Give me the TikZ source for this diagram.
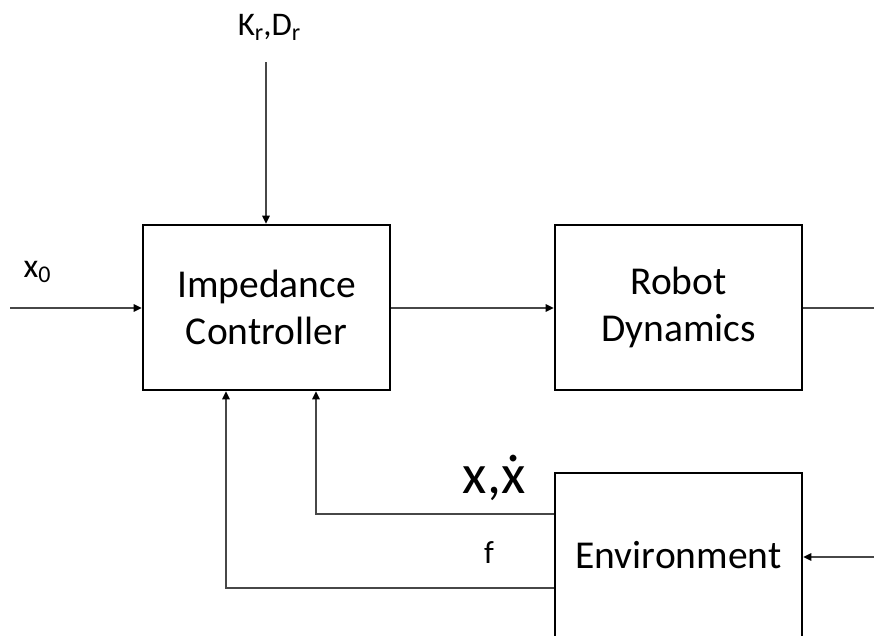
\documentclass[tikz,border=0pt]{standalone}
\usepackage{fontspec}
\setmainfont{Carlito}
\usetikzlibrary{arrows.meta}
\newcommand{\mysub}[1]{\raisebox{-0.32ex}{\fontsize{24}{26}\selectfont #1}}
\newcommand{\xdotglyph}{\ooalign{x\cr\hidewidth\raisebox{0.56em}{.}\hidewidth}}
\begin{document}
\begin{tikzpicture}[x=1pt,y=-1pt,
  blockbox/.style={draw=black,line width=2.6pt,minimum width=247pt,minimum height=165pt,inner sep=0pt,align=center,font=\fontsize{39.5}{47}\selectfont},
  conn/.style={draw=black!72,line width=1.3pt,-{Triangle[length=8pt,width=7.5pt,fill=black,color=black]}},
  plainconn/.style={draw=black!72,line width=1.3pt},
  lbl/.style={inner sep=0pt,anchor=base}]
\clip (0,0) rectangle (874,635);
\fill[white] (0,0) rectangle (874,635);
\node[blockbox] (imp) at (266.5,307.5) {Impedance\\Controller};
\node[blockbox] (rob) at (678.5,307.5) {Robot\\Dynamics};
\node[blockbox,minimum height=180pt] (env) at (678.5,563) {};
\node[lbl,font=\fontsize{39.5}{47}\selectfont] (envtext) at (678.5,568) {Environment};
% labels
\node[lbl,font=\fontsize{33}{38}\selectfont] (kd) at (269,35) {K\mysub{r},D\mysub{r}};
\node[lbl,font=\fontsize{34}{38}\selectfont] (xz) at (37,277) {x\mysub{0}};
\node[lbl,font=\fontsize{56}{60}\selectfont] (xxd) at (494,493) {x,\xdotglyph};
\node[lbl,font=\fontsize{32}{36}\selectfont] (f) at (489,563) {f};
% coordinates
\coordinate (ktop) at (266,62);
\coordinate (xin) at (10,308);
\coordinate (robout) at (874,308);
\coordinate (envin) at (874,557);
\coordinate (c1) at (316,514);
\coordinate (c2) at (226,588);
% connectors
\draw[conn] (ktop) -- (ktop |- imp.north);
\draw[conn] (xin) -- (imp.west |- xin);
\draw[conn] (imp.east |- xin) -- (rob.west |- xin);
\draw[plainconn] (rob.east |- robout) -- (robout);
\draw[conn] (envin) -- (env.east |- envin);
\draw[conn] (env.west |- c1) -- (c1) -- (c1 |- imp.south);
\draw[conn] (env.west |- c2) -- (c2) -- (c2 |- imp.south);
\end{tikzpicture}
\end{document}
